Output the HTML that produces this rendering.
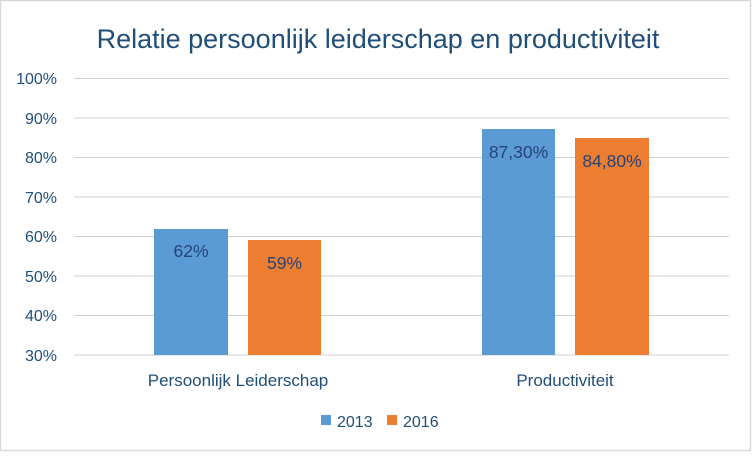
<!DOCTYPE html>
<html><head><meta charset="utf-8"><style>
html,body{margin:0;padding:0;background:#fff;}
body{width:752px;height:452px;overflow:hidden;font-family:"Liberation Sans",sans-serif;}
</style></head><body>
<svg width="752" height="452" xmlns="http://www.w3.org/2000/svg" font-family="Liberation Sans, sans-serif">
<rect x="0.5" y="0.5" width="750" height="450" fill="#fff" stroke="#d9d9d9" stroke-width="1.5"/>
<text x="378" y="48" text-anchor="middle" font-size="27" fill="#1F4E79">Relatie persoonlijk leiderschap en productiviteit</text>
<g stroke="#d0d0d0" stroke-width="1">
<line x1="74" x2="729" y1="78.5" y2="78.5"/>
<line x1="74" x2="729" y1="118" y2="118"/>
<line x1="74" x2="729" y1="157.5" y2="157.5"/>
<line x1="74" x2="729" y1="197" y2="197"/>
<line x1="74" x2="729" y1="236.5" y2="236.5"/>
<line x1="74" x2="729" y1="276" y2="276"/>
<line x1="74" x2="729" y1="315.5" y2="315.5"/>
<line x1="74" x2="729" y1="355" y2="355"/>
</g>
<g font-size="16" fill="#1F4E79" text-anchor="end">
<text x="57" y="84">100%</text>
<text x="57" y="124">90%</text>
<text x="57" y="163">80%</text>
<text x="57" y="203">70%</text>
<text x="57" y="242">60%</text>
<text x="57" y="282">50%</text>
<text x="57" y="321">40%</text>
<text x="57" y="361">30%</text>
</g>
<rect x="154" y="229" width="74" height="126" fill="#5B9BD5"/>
<rect x="248" y="240" width="73" height="115" fill="#ED7D31"/>
<rect x="482" y="129" width="73" height="226" fill="#5B9BD5"/>
<rect x="575" y="138" width="74" height="217" fill="#ED7D31"/>
<g font-size="17.5" fill="#264478" text-anchor="middle">
<text x="191" y="257">62%</text>
<text x="284.5" y="269">59%</text>
<text x="518.5" y="158">87,30%</text>
<text x="612" y="167">84,80%</text>
</g>
<g font-size="17" fill="#1F4E79" text-anchor="middle">
<text x="238" y="386">Persoonlijk Leiderschap</text>
<text x="565" y="386">Productiviteit</text>
</g>
<rect x="321" y="415" width="10" height="10" fill="#5B9BD5"/>
<text x="337" y="427" font-size="16" fill="#1F4E79">2013</text>
<rect x="387" y="415" width="10" height="10" fill="#ED7D31"/>
<text x="403" y="427" font-size="16" fill="#1F4E79">2016</text>
</svg>
</body></html>
